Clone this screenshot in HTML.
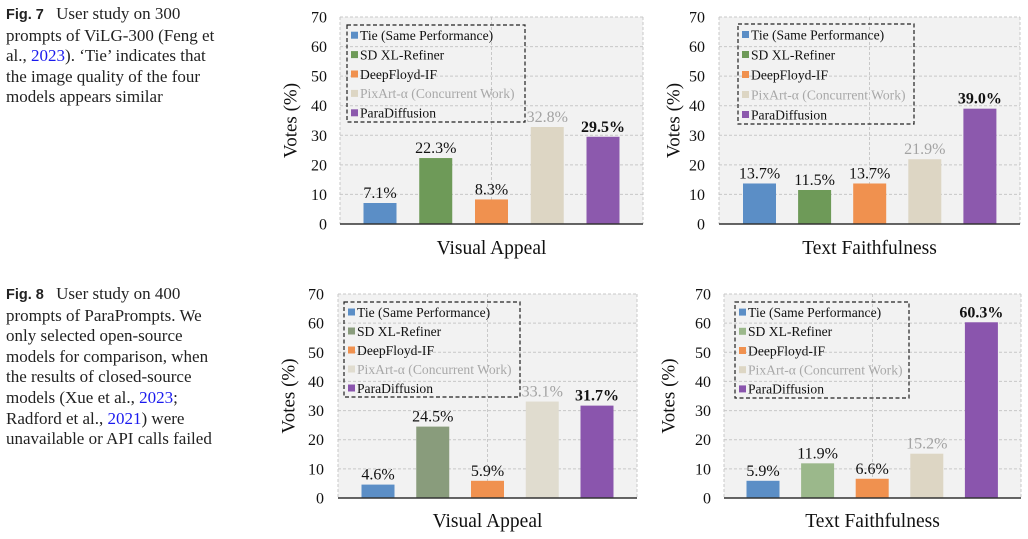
<!DOCTYPE html>
<html><head><meta charset="utf-8">
<style>
html,body{margin:0;padding:0;background:#fff;}
body{width:1028px;height:539px;position:relative;overflow:hidden;font-family:"Liberation Serif",serif;}
.cap{position:absolute;left:6px;width:270px;font-size:17px;line-height:20.6px;color:#222;white-space:nowrap;}
.cap b{font-family:"Liberation Sans",sans-serif;font-size:14.5px;margin-right:8px;}
.cap a{color:#1a1aee;text-decoration:none;}
svg{position:absolute;left:0;top:0;}
</style></head>
<body>
<div class="cap" style="top:4px"><b>Fig. 7</b> User study on 300<br>prompts of ViLG-300 (Feng et<br>al., <a>2023</a>). ‘Tie’ indicates that<br>the image quality of the four<br>models appears similar</div>
<div class="cap" style="top:284px"><b>Fig. 8</b> User study on 400<br>prompts of ParaPrompts. We<br>only selected open-source<br>models for comparison, when<br>the results of closed-source<br>models (Xue et al., <a>2023</a>;<br>Radford et al., <a>2021</a>) were<br>unavailable or API calls failed</div>
<svg id="s" width="1028" height="539"></svg>
<script>
const categories=["Tie (Same Performance)","SD XL-Refiner","DeepFloyd-IF","PixArt-α (Concurrent Work)","ParaDiffusion"];
const yTicks=[0,10,20,30,40,50,60,70];
const valsA=[7.1,22.3,8.3,32.8,29.5];
const valsB=[13.7,11.5,13.7,21.9,39.0];
const valsC=[4.6,24.5,5.9,33.1,31.7];
const valsD=[5.9,11.9,6.6,15.2,60.3];
const titles=["Visual Appeal","Text Faithfulness","Visual Appeal","Text Faithfulness"];
const colorsTop=["#5b8ec6","#6e9a58","#f0914f","#ddd6c4","#8c59ad"];
const colorsBot=["#5b8ec6","#899c7c","#f0914f","#e0dccf","#8a55ad"];
const colorsBR=["#5b8ec6","#9bb88b","#f0914f","#ddd6c4","#8a55ad"];
const panels=[
 {v:valsA,t:titles[0],c:colorsTop,L:340,R:643,T:17,B:224,x0:380,st:55.75,lg:[347,25,525,122],ty:247,ylx:292,tk:327},
 {v:valsB,t:titles[1],c:colorsTop,L:719,R:1020,T:17,B:224,x0:759.5,st:55.1,lg:[738,24,914,124],ty:247,ylx:675,tk:705},
 {v:valsC,t:titles[2],c:colorsBot,L:338,R:637,T:294,B:498,x0:378,st:54.75,lg:[344,302,520,397],ty:520,ylx:290,tk:324},
 {v:valsD,t:titles[3],c:colorsBR,L:724,R:1021,T:294,B:498,x0:763,st:54.6,lg:[735,302,909,398],ty:520,ylx:670,tk:711}
];
const NS="http://www.w3.org/2000/svg";
const svg=document.getElementById('s');
function mk(tag,at,parent,txt){const e=document.createElementNS(NS,tag);for(const k in at)e.setAttribute(k,at[k]);if(txt!=null)e.textContent=txt;(parent||svg).appendChild(e);return e;}
panels.forEach((p,pi)=>{
 const g=mk('g',{});
 
 
 const y=v=>p.B-(v/70)*(p.B-p.T);
 const bg=mk('rect',{x:p.L,y:p.T,width:p.R-p.L,height:p.B-p.T,fill:'#f2f2f2'},g);
 
 
 yTicks.forEach(t=>{
  if(t>0){const ln=mk('line',{x1:p.L,x2:p.R,y1:y(t),y2:y(t),stroke:'#c8c8c8','stroke-dasharray':'3,2','stroke-width':1},g);
  
  }
  const tl=mk('text',{x:p.tk,y:y(t)+5.5,'text-anchor':'end','font-size':16,fill:'#111'},g,String(t));
  
  
 });
 [p.L,(p.L+p.R)/2,p.R].forEach(xx=>{
  const vl=mk('line',{x1:xx,x2:xx,y1:p.T,y2:p.B,stroke:'#c8c8c8','stroke-dasharray':'3,2','stroke-width':1},g);
  
  
 });
 p.v.forEach((v,i)=>{
  const cx=p.x0+p.st*i;
  const r=mk('rect',{x:cx-16.5,y:y(v),width:33,height:p.B-y(v),fill:p.c[i]},g);
  
  
  const bold=i===4, gray=i===3;
  const lb=mk('text',{x:cx,y:y(v)-5,'text-anchor':'middle','font-size':16,'font-weight':bold?'bold':'normal',fill:gray?'#a3a3a3':'#111'},g,v.toFixed(1)+'%');
  
  
 });
 const ax=mk('line',{x1:p.L,x2:p.R,y1:p.B,y2:p.B,stroke:'#333','stroke-width':1.5},g);
 
 
 const [lx1,ly1,lx2,ly2]=p.lg;
 const lgg=mk('g',{},g);
 
 
 mk('rect',{x:lx1,y:ly1,width:lx2-lx1,height:ly2-ly1,fill:'none',stroke:'#222','stroke-dasharray':'4,2.5','stroke-width':1.2},lgg);
 const rs=(ly2-ly1)/5;
 categories.forEach((c,i)=>{
  const cy=ly1+rs*(i+0.5)+0.5;
  const it=mk('g',{},lgg);
  
  
  mk('rect',{x:lx1+4,y:cy-3.5,width:7,height:7,fill:p.c[i]},it);
  mk('text',{x:lx1+13,y:cy+4.8,'font-size':13.6,fill:i===3?'#a8a8a8':'#111'},it,c);
 });
 const xt=mk('text',{x:(p.L+p.R)/2,y:p.ty+7,'text-anchor':'middle','font-size':19.5,fill:'#111'},g,p.t);
 
 
 const yc=(p.T+p.B)/2;
 const yt=mk('text',{x:p.ylx,y:yc,'text-anchor':'middle','font-size':19,fill:'#111',transform:`rotate(-90 ${p.ylx} ${yc})`,'dominant-baseline':'middle'},g,'Votes (%)');
 
 
});
</script>
</body></html>
